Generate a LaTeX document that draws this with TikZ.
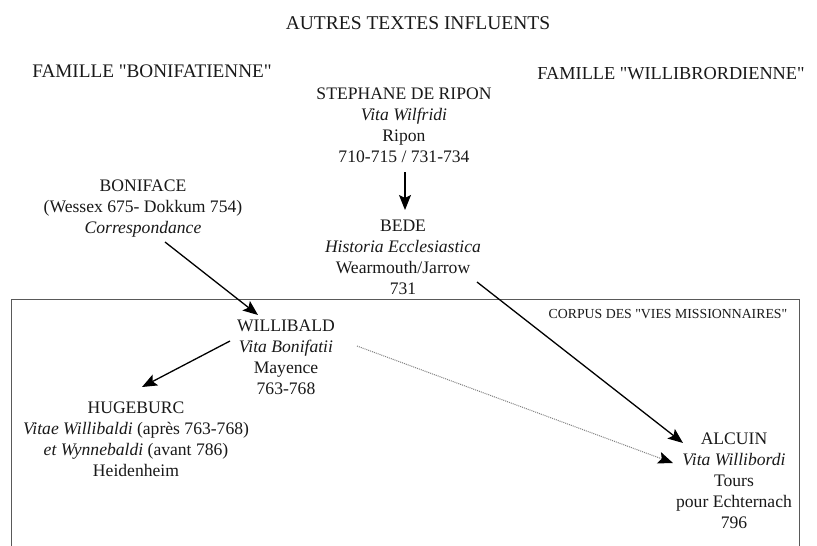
\documentclass[tikz,border=0pt]{standalone}
\usepackage{fontspec}
\setmainfont{Liberation Serif}[Ligatures=TeXOff]
\usetikzlibrary{arrows.meta,calc}
\begin{document}
\begin{tikzpicture}[x=1pt,y=-1pt,
  txt/.style={inner sep=0pt,align=center,text=black!90,font=\fontsize{17.6}{21}\selectfont},
  hdr/.style={inner sep=0pt,text=black!90},
  arr/.style={line width=1.3pt,-{Stealth[length=15pt,width=12pt,inset=3pt]}},
  dots/.style={line width=1pt,gray,dash pattern=on 1pt off 1pt,-{Stealth[length=15pt,width=12pt,inset=3pt,black]}},
  frame/.style={line width=1pt,black!65}]
\useasboundingbox (0,0) rectangle (817,546);
\fill[white] (0,0) rectangle (817,546);

\node[hdr,font=\fontsize{19.5}{23}\selectfont] (titre) at (418,23) {AUTRES TEXTES INFLUENTS};
\node[hdr,font=\fontsize{19.2}{23}\selectfont] (famB) at (152,71) {FAMILLE "BONIFATIENNE"};
\node[hdr,font=\fontsize{18.3}{23}\selectfont] (famW) at (671,74) {FAMILLE "WILLIBRORDIENNE"};

\node[txt] (stephane) at (404,125.5) {STEPHANE DE RIPON\\\textit{Vita Wilfridi}\\Ripon\\710-715 / 731-734};
\node[txt] (boniface) at (143,209) {BONIFACE\\(Wessex 675- Dokkum 754)\\\textit{Correspondance}};
\node[txt] (bede) at (403,257.5) {BEDE\\\textit{Historia Ecclesiastica}\\Wearmouth/Jarrow\\731};
\node[txt] (willibald) at (286,357) {WILLIBALD\\\textit{Vita Bonifatii}\\Mayence\\763-768};
\node[txt] (hugeburc) at (136,439.5) {HUGEBURC\\\textit{Vitae Willibaldi} (après 763-768)\\\textit{et Wynnebaldi} (avant 786)\\Heidenheim};
\node[txt] (alcuin) at (734,480.5) {ALCUIN\\\textit{Vita Willibordi}\\Tours\\pour Echternach\\796};

\draw[frame] (11,546) -- (11,299) -- (799,299) -- (799,546);
\node[hdr,font=\fontsize{13.8}{16}\selectfont] (corpus) at (668,314) {CORPUS DES "VIES MISSIONNAIRES"};

\draw[arr] ([shift={(1,46.5)}]stephane.center) -- ([shift={(2,-47.5)}]bede.center);
\draw[arr] ([shift={(22,33)}]boniface.center) -- ([shift={(-28,-42)}]willibald.center);
\draw[arr] ([shift={(74,24.5)}]bede.center) -- ([shift={(-51,-37.5)}]alcuin.center);
\draw[arr] ([shift={(-56,-16)}]willibald.center) -- ([shift={(6,-52.5)}]hugeburc.center);
\draw[dots] ([shift={(71,-11)}]willibald.center) -- ([shift={(-61,-17.5)}]alcuin.center);
\end{tikzpicture}
\end{document}
